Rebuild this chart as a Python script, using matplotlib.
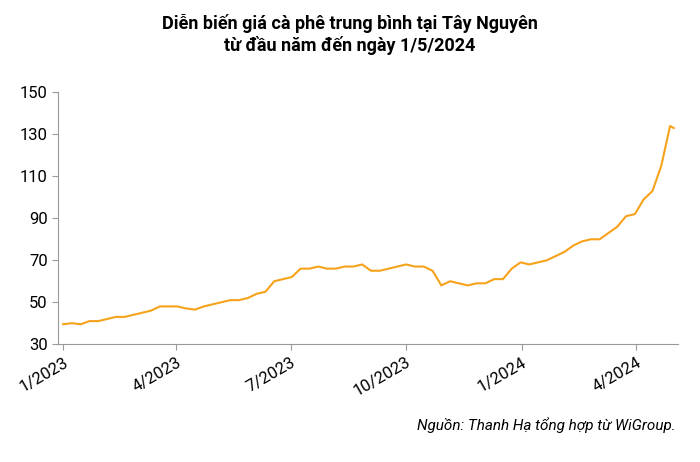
import matplotlib
matplotlib.use("Agg")
import matplotlib.pyplot as plt
import pandas as pd

prices = [39.5,40,39.5,41,41, 42,43,43,44, 45,46,48,48, 48,47,46.5,48,49,
          50,51,51,52, 54,55,60,61, 62,66,66,67,66, 66,67,67,68, 65,65,66,67,
          68,67,67,65,58, 60,59,58,59, 59,61,61,66,69, 68,69,70,72, 74,77,79,80,
          80,83,86,91,92, 99,103,115,134, 133]
dates = list(pd.date_range("2023-01-01", periods=70, freq="7D")) + [pd.Timestamp("2024-05-01")]
tick_dates = ["2023-01-01","2023-04-01","2023-07-01","2023-10-01","2024-01-01","2024-04-01"]
tick_labels = ["1/2023","4/2023","7/2023","10/2023","1/2024","4/2024"]

plt.rcParams['font.family'] = ['Roboto', 'DejaVu Sans']
fig = plt.figure(figsize=(7, 4.62), dpi=100)
ax = fig.add_axes([0.083, 0.255, 0.885, 0.545])
ax.plot(dates, prices, color="#f7a21b", lw=1.5)
ax.set_ylim(30, 150)
ax.set_yticks(range(30, 151, 20))
ax.set_xlim(pd.Timestamp("2022-12-28"), pd.Timestamp("2024-05-04"))
ax.set_xticks(pd.to_datetime(tick_dates))
ax.set_xticklabels(tick_labels, rotation=30, ha="right", rotation_mode="anchor")
ax.tick_params(labelsize=12, length=4, color="#999999")
ax.grid(False)
for s in ["top", "right"]:
    ax.spines[s].set_visible(False)
ax.spines["left"].set_color("#999999")
ax.spines["bottom"].set_color("#999999")
fig.text(0.5, 0.925, "Diễn biến giá cà phê trung bình tại Tây Nguyên\ntừ đầu năm đến ngày 1/5/2024",
         ha="center", va="center", fontsize=13, fontweight="bold")
fig.text(0.965, 0.07, "Nguồn: Thanh Hạ tổng hợp từ WiGroup.", ha="right", fontsize=11, style="italic")
fig.savefig("out.png")
